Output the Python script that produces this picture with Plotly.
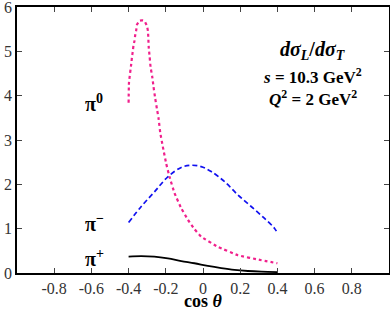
import plotly.graph_objects as go

# pi0 (magenta dotted)
pi0_x = [-0.400, -0.398, -0.384, -0.381, -0.377, -0.374, -0.368, -0.365, -0.359, -0.355, -0.341, -0.328, -0.315,
         -0.302, -0.296, -0.294, -0.292, -0.287, -0.282, -0.273, -0.266, -0.257, -0.248, -0.239, -0.230,
         -0.216, -0.198, -0.180, -0.153, -0.117, -0.081, -0.046, -0.010, 0.080, 0.188, 0.30, 0.40]
pi0_y = [3.84, 4.29, 4.78, 4.90, 5.01, 5.13, 5.24, 5.35, 5.48, 5.60, 5.69, 5.70, 5.69,
         5.58, 5.46, 5.30, 5.10, 4.88, 4.65, 4.43, 4.20, 3.94, 3.71, 3.49, 3.17,
         2.85, 2.47, 2.17, 1.80, 1.46, 1.20, 0.99, 0.82, 0.59, 0.40, 0.30, 0.22]

# pi- (blue dashed)
pim_x = [-0.40, -0.332, -0.261, -0.189, -0.117, -0.064, -0.010, 0.044, 0.116, 0.188, 0.259, 0.331, 0.384, 0.40]
pim_y = [1.14, 1.50, 1.83, 2.17, 2.38, 2.43, 2.40, 2.29, 2.06, 1.76, 1.50, 1.23, 1.01, 0.90]

# pi+ (black solid)
pip_x = [-0.40, -0.332, -0.262, -0.189, -0.117, -0.046, 0.026, 0.098, 0.169, 0.241, 0.313, 0.40]
pip_y = [0.37, 0.38, 0.37, 0.33, 0.27, 0.22, 0.16, 0.11, 0.07, 0.045, 0.03, 0.02]

xtick_vals = [-0.8, -0.6, -0.4, -0.2, 0, 0.2, 0.4, 0.6, 0.8]
xtick_text = ["-0.8", "-0.6", "-0.4", "-0.2", "0", "0.2", "0.4", "0.6", "0.8"]
ytick_vals = [0, 1, 2, 3, 4, 5, 6]

serif = "Liberation Serif"

fig = go.Figure()
fig.add_trace(go.Scatter(x=pi0_x, y=pi0_y, mode="lines", line=dict(color="#f0208c", width=2.2, dash="dot", shape="spline", smoothing=0.3)))
fig.add_trace(go.Scatter(x=pim_x, y=pim_y, mode="lines", line=dict(color="#1010f0", width=1.7, dash="5px,3px", shape="spline")))
fig.add_trace(go.Scatter(x=pip_x, y=pip_y, mode="lines", line=dict(color="black", width=1.8, shape="spline")))

ann = []
for txt, yv in [("<b>π<sup>0</sup></b>", 3.84), ("<b>π<sup>−</sup></b>", 1.13), ("<b>π<sup>+</sup></b>", 0.34)]:
    ann.append(dict(x=-0.645, y=yv, xref="x", yref="y", text=txt, showarrow=False, xanchor="left", yanchor="middle",
                    font=dict(family=serif, size=20, color="black")))
ann.append(dict(x=0.59, y=5.03, xref="x", yref="y", text="<b><i>dσ<sub>L</sub></i>/<i>dσ<sub>T</sub></i></b>", showarrow=False,
                font=dict(family=serif, size=20, color="black")))
ann.append(dict(x=0.59, y=4.45, xref="x", yref="y", text="<b><i>s</i> = 10.3 GeV<sup>2</sup></b>", showarrow=False,
                font=dict(family=serif, size=17, color="black")))
ann.append(dict(x=0.59, y=3.95, xref="x", yref="y", text="<b><i>Q</i><sup>2</sup> = 2 GeV<sup>2</sup></b>", showarrow=False,
                font=dict(family=serif, size=17, color="black")))
ann.append(dict(x=0.5, y=-0.104, xref="paper", yref="paper", text="<b>cos <i>θ</i></b>", showarrow=False,
                xanchor="center", yanchor="middle", font=dict(family=serif, size=18, color="black")))

fig.update_layout(
    width=390, height=312,
    margin=dict(l=17, r=1, t=7, b=39, autoexpand=False),
    paper_bgcolor="white", plot_bgcolor="white",
    showlegend=False,
    annotations=ann,
    font=dict(family=serif, size=16, color="#333"),
)
fig.update_xaxes(range=[-1, 1], tickvals=xtick_vals, ticktext=xtick_text, ticks="inside", ticklen=5,
                 showline=True, linecolor="black", linewidth=1.5, mirror="ticks", showgrid=False, zeroline=False,
                 automargin=False, tickfont=dict(family=serif, size=16, color="#333"))
fig.update_yaxes(range=[0, 6], tickvals=ytick_vals, ticks="inside", ticklen=5,
                 showline=True, linecolor="black", linewidth=1.5, mirror="ticks", showgrid=False, zeroline=False,
                 automargin=False, tickfont=dict(family=serif, size=16, color="#333"), ticklabelstandoff=0,
                 ticklabeloverflow="allow")
fig.write_html("out.html", config={"displayModeBar": False},
               post_script="document.body.style.margin='0';")
